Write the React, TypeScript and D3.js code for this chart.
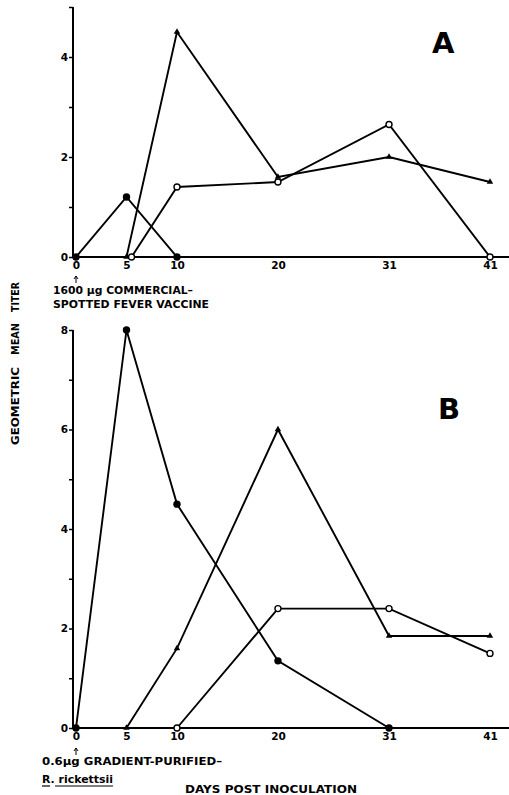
import React, { useEffect, useRef } from "react";
import * as d3 from "d3";

const dayTicks = [0, 5, 10, 20, 31, 41];
const yTicksA = [0, 1, 2, 3, 4, 5];
const yTicksB = [0, 1, 2, 3, 4, 5, 6, 7, 8];

const aFilledX = [0, 5, 10];
const aFilledY = [0, 1.2, 0];
const aTriX = [5, 10, 20, 31, 41];
const aTriY = [0, 4.5, 1.6, 2.0, 1.5];
const aOpenX = [5.5, 10, 20, 31, 41];
const aOpenY = [0, 1.4, 1.5, 2.65, 0];

const bFilledX = [0, 5, 10, 20, 31];
const bFilledY = [0, 8, 4.5, 1.35, 0];
const bTriX = [5, 10, 20, 31, 41];
const bTriY = [0, 1.6, 6.0, 1.85, 1.85];
const bOpenX = [10, 20, 31, 41];
const bOpenY = [0, 2.4, 2.4, 1.5];

const FONT = "'DejaVu Sans', 'Liberation Sans', sans-serif";

type Series = { xs: number[]; ys: number[]; kind: "filled" | "open" | "tri" };

export default function App() {
  const ref = useRef<SVGSVGElement>(null);

  useEffect(() => {
    const svg = d3.select(ref.current);
    svg.selectAll("*").remove();
    const x = d3.scaleLinear().domain([0, 41]).range([76, 490]);

    const panels = [
      {
        y: d3.scaleLinear().domain([0, 5]).range([257, 7]),
        ticks: yTicksA,
        series: [
          { xs: aFilledX, ys: aFilledY, kind: "filled" },
          { xs: aTriX, ys: aTriY, kind: "tri" },
          { xs: aOpenX, ys: aOpenY, kind: "open" },
        ] as Series[],
        letter: "A",
        letterPos: [432, 53],
      },
      {
        y: d3.scaleLinear().domain([0, 8]).range([728, 330]),
        ticks: yTicksB,
        series: [
          { xs: bFilledX, ys: bFilledY, kind: "filled" },
          { xs: bTriX, ys: bTriY, kind: "tri" },
          { xs: bOpenX, ys: bOpenY, kind: "open" },
        ] as Series[],
        letter: "B",
        letterPos: [438, 419],
      },
    ];

    panels.forEach((p, pi) => {
      const g = svg.append("g");
      const y = p.y;
      const y0 = y(0);
      const yAxis = d3.axisLeft(y).tickValues(p.ticks).tickSize(4).tickPadding(1);
      const ya = g.append("g").attr("transform", "translate(73,0)").call(yAxis as any);
      ya.select(".domain").remove();
      ya.selectAll(".tick line").attr("stroke", "#000").attr("stroke-width", 1.5);
      ya.selectAll("text")
        .attr("font-family", FONT)
        .attr("font-weight", "bold")
        .attr("font-size", 10.5)
        .attr("fill", "#000")
        .text((d: any) => (d % 2 === 0 && !(pi === 0 && d === 5) ? String(d) : ""));
      g.append("line")
        .attr("x1", 73)
        .attr("x2", 73)
        .attr("y1", y(p.ticks[p.ticks.length - 1]))
        .attr("y2", y0)
        .attr("stroke", "#000")
        .attr("stroke-width", 2);

      const xAxis = d3.axisBottom(x).tickValues(dayTicks).tickSize(0).tickPadding(5).tickFormat(d3.format("d") as any);
      const xa = g.append("g").attr("transform", `translate(0,${y0})`).call(xAxis as any);
      xa.select(".domain").remove();
      xa.selectAll("text")
        .attr("font-family", FONT)
        .attr("font-weight", "bold")
        .attr("font-size", 10.5)
        .attr("fill", "#000");
      g.append("line")
        .attr("x1", 72)
        .attr("x2", 509)
        .attr("y1", y0)
        .attr("y2", y0)
        .attr("stroke", "#000")
        .attr("stroke-width", 2);

      p.series.forEach((s) => {
        const pts = s.xs.map((v, i) => [x(v), y(s.ys[i])] as [number, number]);
        g.append("path")
          .attr("d", d3.line()(pts) as string)
          .attr("fill", "none")
          .attr("stroke", "#000")
          .attr("stroke-width", 1.9);
        pts.forEach(([px, py]) => {
          if (s.kind === "filled") {
            g.append("circle").attr("cx", px).attr("cy", py).attr("r", 3.7).attr("fill", "#000");
          } else if (s.kind === "open") {
            g.append("circle")
              .attr("cx", px)
              .attr("cy", py)
              .attr("r", 3)
              .attr("fill", "#fff")
              .attr("stroke", "#000")
              .attr("stroke-width", 1.4);
          } else {
            g.append("path")
              .attr("d", d3.symbol().type(d3.symbolTriangle).size(18)() as string)
              .attr("transform", `translate(${px},${py})`)
              .attr("fill", "#000");
          }
        });
      });

      g.append("text")
        .attr("x", p.letterPos[0])
        .attr("y", p.letterPos[1])
        .attr("font-family", FONT)
        .attr("font-weight", "bold")
        .attr("font-size", 29)
        .attr("fill", "#000")
        .text(p.letter);
    });

    const arrow = (yy: number) =>
      svg
        .append("path")
        .attr("d", `M${x(0)},${yy + 7}L${x(0)},${yy}M${x(0) - 2},${yy + 3}L${x(0)},${yy}L${x(0) + 2},${yy + 3}`)
        .attr("stroke", "#000")
        .attr("stroke-width", 1)
        .attr("fill", "none");
    arrow(276);
    arrow(748);

    const txt = (t: string, xx: number, yy: number, size: number, len?: number) => {
      const e = svg
        .append("text")
        .attr("x", xx)
        .attr("y", yy)
        .attr("font-family", FONT)
        .attr("font-weight", "bold")
        .attr("font-size", size)
        .attr("fill", "#000")
        .text(t);
      if (len) e.attr("textLength", len).attr("lengthAdjust", "spacingAndGlyphs");
      return e;
    };
    txt("1600 μg COMMERCIAL–", 53, 294, 11, 140);
    txt("SPOTTED FEVER VACCINE", 53, 308, 11, 156);
    txt("0.6μg GRADIENT-PURIFIED–", 42, 765, 11, 180);
    txt("R. rickettsii", 42, 783, 11, 71);
    svg.append("line").attr("x1", 42).attr("x2", 50).attr("y1", 786).attr("y2", 786).attr("stroke", "#000").attr("stroke-width", 1.2);
    svg.append("line").attr("x1", 55).attr("x2", 113).attr("y1", 786).attr("y2", 786).attr("stroke", "#000").attr("stroke-width", 1.2);
    txt("DAYS  POST  INOCULATION", 185, 793, 10.5, 172);

    const yWords: [string, number, number][] = [
      ["TITER", 297, 30],
      ["MEAN", 339, 32],
      ["GEOMETRIC", 406, 78],
    ];
    yWords.forEach(([w, cy, len]) => {
      svg
        .append("text")
        .attr("transform", `translate(19,${cy}) rotate(-90)`)
        .attr("text-anchor", "middle")
        .attr("font-family", FONT)
        .attr("font-weight", "bold")
        .attr("font-size", 10)
        .attr("fill", "#000")
        .attr("textLength", len)
        .attr("lengthAdjust", "spacingAndGlyphs")
        .text(w);
    });
  }, []);

  return (
    <svg
      ref={ref}
      width={509}
      height={795}
      style={{ position: "absolute", left: 0, top: 0, background: "#fff" }}
    />
  );
}
